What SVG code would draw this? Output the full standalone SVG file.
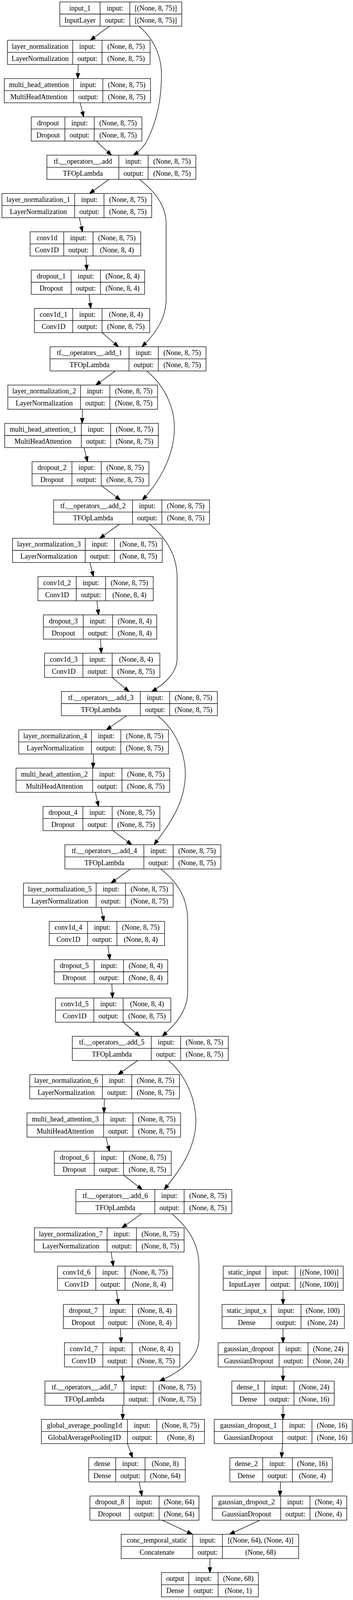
<svg xmlns="http://www.w3.org/2000/svg" width="903" height="4611" viewBox="0 0 903 4611">
<style>
.node rect{fill:#fff;stroke:#000;stroke-width:1.3}
.node path{fill:none;stroke:#000;stroke-width:1.3}
.node text{font-family:"Liberation Serif","Times New Roman",serif;font-size:18px;text-anchor:middle;fill:#000}
.edges path{fill:none;stroke:#000;stroke-width:1.3;marker-end:url(#arr)}
</style>
<defs>
<marker id="arr" markerUnits="userSpaceOnUse" markerWidth="16" markerHeight="12" refX="13" refY="5" orient="auto" overflow="visible">
<path d="M0,0.3 L13,5 L0,9.7 z" fill="#000" stroke="#000" stroke-width="1.3"/>
</marker>
</defs>
<rect width="903" height="4611" fill="#fff"/>
<g class="edges" id="edges">
<path d="M280,67 L231,103.1"/>
<path d="M200,165.1 L199,201.1"/>
<path d="M205,263.1 L214,299.2"/>
<path d="M246,361.2 L285,397.3"/>
<path d="M355,67 C390,95.7 413,139.1 413,191.2 C413,269.4 395,321.5 378,356.2 C370,373.6 358,386.6 341,397.3"/>
<path d="M279,459.3 L229,495.4"/>
<path d="M203,557.4 L211,593.4"/>
<path d="M220,655.4 L222,691.5"/>
<path d="M228,753.5 L232,789.6"/>
<path d="M261,851.6 L303,887.6"/>
<path d="M357,459.3 C390,486.1 425,521 425,573.3 L425,765.2 C425,817.6 395,856.8 363,887.6"/>
<path d="M295,949.6 L245,985.7"/>
<path d="M211,1047.7 L210,1083.8"/>
<path d="M215,1145.8 L224,1181.8"/>
<path d="M260,1243.8 L308,1279.9"/>
<path d="M375,949.6 C415,982.3 446,1034.5 446,1095.3 C446,1173.4 400,1242.9 364,1279.9"/>
<path d="M306,1341.9 L255,1378"/>
<path d="M230,1440 L239,1476.1"/>
<path d="M248,1538.1 L252,1574.1"/>
<path d="M257,1636.1 L259,1672.2"/>
<path d="M287,1734.2 L330,1770.3"/>
<path d="M383,1341.9 C420,1372.8 453,1416.4 453,1477.5 L453,1687 C453,1721.8 420,1752.4 388,1770.3"/>
<path d="M324,1832.3 L272,1868.3"/>
<path d="M239,1930.3 L238,1966.4"/>
<path d="M244,2028.4 L252,2064.5"/>
<path d="M289,2126.5 L337,2162.5"/>
<path d="M403,1832.3 C445,1864.8 474,1921.3 474,1982 C474,2060.2 425,2121 394,2162.5"/>
<path d="M334,2224.5 L284,2260.6"/>
<path d="M258,2322.6 L266,2358.7"/>
<path d="M276,2420.7 L281,2456.8"/>
<path d="M286,2518.8 L288,2554.8"/>
<path d="M315,2616.8 L358,2652.9"/>
<path d="M411,2224.5 C450,2255.1 480,2294.4 480,2355.5 L480,2538.8 C480,2591.1 445,2626 415,2652.9"/>
<path d="M352,2714.9 L302,2751"/>
<path d="M267,2813 L266,2849"/>
<path d="M271,2911 L280,2947.1"/>
<path d="M317,3009.1 L364,3045.2"/>
<path d="M431,2714.9 C470,2747.2 501,2808 501,2868.8 C501,2947 450,3007.8 420,3045.2"/>
<path d="M362,3107.2 L312,3143.2"/>
<path d="M284,3205.2 L290,3241.3"/>
<path d="M298,3303.3 L303,3339.4"/>
<path d="M308,3401.4 L310,3437.5"/>
<path d="M313,3499.5 L314,3535.5"/>
<path d="M440,3107.2 C480,3142 509,3181.2 509,3242.3 L509,3425.5 C509,3477.8 460,3512.7 408,3535.5"/>
<path d="M314,3597.5 L314,3633.6"/>
<path d="M326,3695.6 L339,3731.7"/>
<path d="M356,3793.7 L363,3829.7"/>
<path d="M415,3891.7 L492,3927.8"/>
<path d="M665,3891.7 L587,3927.8"/>
<path d="M537,3989.8 L537,4025.9"/>
<path d="M724,3303.3 L724,3339.4"/>
<path d="M724,3401.4 L724,3437.5"/>
<path d="M724,3499.5 L724,3535.5"/>
<path d="M724,3597.5 L724,3633.6"/>
<path d="M723,3695.6 L720,3731.7"/>
<path d="M718,3793.7 L716,3829.7"/>
</g>

<g class="node" id="input_1" transform="translate(153,5)"><rect width="312" height="62"/><path d="M103,0V62M179,0V62M0,31H312"/><text x="51.5" y="21.5">input_1</text><text x="51.5" y="52.5">InputLayer</text><text x="141" y="21.5">input:</text><text x="141" y="52.5">output:</text><text x="245.5" y="21.5">[(None, 8, 75)]</text><text x="245.5" y="52.5">[(None, 8, 75)]</text></g>

<g class="node" id="layer_normalization" transform="translate(19,103.07)"><rect width="365" height="62"/><path d="M167,0V62M242,0V62M0,31H365"/><text x="83.5" y="21.5">layer_normalization</text><text x="83.5" y="52.5">LayerNormalization</text><text x="204.5" y="21.5">input:</text><text x="204.5" y="52.5">output:</text><text x="303.5" y="21.5">(None, 8, 75)</text><text x="303.5" y="52.5">(None, 8, 75)</text></g>

<g class="node" id="multi_head_attention" transform="translate(11,201.14)"><rect width="374" height="62"/><path d="M177,0V62M252,0V62M0,31H374"/><text x="88.5" y="21.5">multi_head_attention</text><text x="88.5" y="52.5">MultiHeadAttention</text><text x="214.5" y="21.5">input:</text><text x="214.5" y="52.5">output:</text><text x="313" y="21.5">(None, 8, 75)</text><text x="313" y="52.5">(None, 8, 75)</text></g>

<g class="node" id="dropout" transform="translate(80,299.21)"><rect width="283" height="62"/><path d="M86,0V62M161,0V62M0,31H283"/><text x="43" y="21.5">dropout</text><text x="43" y="52.5">Dropout</text><text x="123.5" y="21.5">input:</text><text x="123.5" y="52.5">output:</text><text x="222" y="21.5">(None, 8, 75)</text><text x="222" y="52.5">(None, 8, 75)</text></g>

<g class="node" id="add" transform="translate(120,397.28)"><rect width="381" height="62"/><path d="M184,0V62M259,0V62M0,31H381"/><text x="92" y="21.5">tf.__operators__.add</text><text x="92" y="52.5">TFOpLambda</text><text x="221.5" y="21.5">input:</text><text x="221.5" y="52.5">output:</text><text x="320" y="21.5">(None, 8, 75)</text><text x="320" y="52.5">(None, 8, 75)</text></g>

<g class="node" id="layer_normalization_1" transform="translate(5,495.35)"><rect width="383" height="62"/><path d="M186,0V62M261,0V62M0,31H383"/><text x="93" y="21.5">layer_normalization_1</text><text x="93" y="52.5">LayerNormalization</text><text x="223.5" y="21.5">input:</text><text x="223.5" y="52.5">output:</text><text x="322" y="21.5">(None, 8, 75)</text><text x="322" y="52.5">(None, 8, 75)</text></g>

<g class="node" id="conv1d" transform="translate(77,593.42)"><rect width="283" height="62"/><path d="M86,0V62M161,0V62M0,31H283"/><text x="43" y="21.5">conv1d</text><text x="43" y="52.5">Conv1D</text><text x="123.5" y="21.5">input:</text><text x="123.5" y="52.5">output:</text><text x="222" y="21.5">(None, 8, 75)</text><text x="222" y="52.5">(None, 8, 4)</text></g>

<g class="node" id="dropout_1" transform="translate(80,691.49)"><rect width="290" height="62"/><path d="M102,0V62M177,0V62M0,31H290"/><text x="51" y="21.5">dropout_1</text><text x="51" y="52.5">Dropout</text><text x="139.5" y="21.5">input:</text><text x="139.5" y="52.5">output:</text><text x="233.5" y="21.5">(None, 8, 4)</text><text x="233.5" y="52.5">(None, 8, 4)</text></g>

<g class="node" id="conv1d_1" transform="translate(88,789.56)"><rect width="295" height="62"/><path d="M98,0V62M173,0V62M0,31H295"/><text x="49" y="21.5">conv1d_1</text><text x="49" y="52.5">Conv1D</text><text x="135.5" y="21.5">input:</text><text x="135.5" y="52.5">output:</text><text x="234" y="21.5">(None, 8, 4)</text><text x="234" y="52.5">(None, 8, 75)</text></g>

<g class="node" id="add_1" transform="translate(128,887.63)"><rect width="399" height="62"/><path d="M202,0V62M277,0V62M0,31H399"/><text x="101" y="21.5">tf.__operators__.add_1</text><text x="101" y="52.5">TFOpLambda</text><text x="239.5" y="21.5">input:</text><text x="239.5" y="52.5">output:</text><text x="338" y="21.5">(None, 8, 75)</text><text x="338" y="52.5">(None, 8, 75)</text></g>

<g class="node" id="layer_normalization_2" transform="translate(20,985.7)"><rect width="383" height="62"/><path d="M186,0V62M261,0V62M0,31H383"/><text x="93" y="21.5">layer_normalization_2</text><text x="93" y="52.5">LayerNormalization</text><text x="223.5" y="21.5">input:</text><text x="223.5" y="52.5">output:</text><text x="322" y="21.5">(None, 8, 75)</text><text x="322" y="52.5">(None, 8, 75)</text></g>

<g class="node" id="multi_head_attention_1" transform="translate(12,1083.77)"><rect width="393" height="62"/><path d="M196,0V62M271,0V62M0,31H393"/><text x="98" y="21.5">multi_head_attention_1</text><text x="98" y="52.5">MultiHeadAttention</text><text x="233.5" y="21.5">input:</text><text x="233.5" y="52.5">output:</text><text x="332" y="21.5">(None, 8, 75)</text><text x="332" y="52.5">(None, 8, 75)</text></g>

<g class="node" id="dropout_2" transform="translate(82,1181.84)"><rect width="299" height="62"/><path d="M102,0V62M177,0V62M0,31H299"/><text x="51" y="21.5">dropout_2</text><text x="51" y="52.5">Dropout</text><text x="139.5" y="21.5">input:</text><text x="139.5" y="52.5">output:</text><text x="238" y="21.5">(None, 8, 75)</text><text x="238" y="52.5">(None, 8, 75)</text></g>

<g class="node" id="add_2" transform="translate(137,1279.91)"><rect width="399" height="62"/><path d="M202,0V62M277,0V62M0,31H399"/><text x="101" y="21.5">tf.__operators__.add_2</text><text x="101" y="52.5">TFOpLambda</text><text x="239.5" y="21.5">input:</text><text x="239.5" y="52.5">output:</text><text x="338" y="21.5">(None, 8, 75)</text><text x="338" y="52.5">(None, 8, 75)</text></g>

<g class="node" id="layer_normalization_3" transform="translate(32,1377.98)"><rect width="383" height="62"/><path d="M186,0V62M261,0V62M0,31H383"/><text x="93" y="21.5">layer_normalization_3</text><text x="93" y="52.5">LayerNormalization</text><text x="223.5" y="21.5">input:</text><text x="223.5" y="52.5">output:</text><text x="322" y="21.5">(None, 8, 75)</text><text x="322" y="52.5">(None, 8, 75)</text></g>

<g class="node" id="conv1d_2" transform="translate(97,1476.05)"><rect width="295" height="62"/><path d="M98,0V62M173,0V62M0,31H295"/><text x="49" y="21.5">conv1d_2</text><text x="49" y="52.5">Conv1D</text><text x="135.5" y="21.5">input:</text><text x="135.5" y="52.5">output:</text><text x="234" y="21.5">(None, 8, 75)</text><text x="234" y="52.5">(None, 8, 4)</text></g>

<g class="node" id="dropout_3" transform="translate(111,1574.12)"><rect width="290" height="62"/><path d="M102,0V62M177,0V62M0,31H290"/><text x="51" y="21.5">dropout_3</text><text x="51" y="52.5">Dropout</text><text x="139.5" y="21.5">input:</text><text x="139.5" y="52.5">output:</text><text x="233.5" y="21.5">(None, 8, 4)</text><text x="233.5" y="52.5">(None, 8, 4)</text></g>

<g class="node" id="conv1d_3" transform="translate(114,1672.19)"><rect width="295" height="62"/><path d="M98,0V62M173,0V62M0,31H295"/><text x="49" y="21.5">conv1d_3</text><text x="49" y="52.5">Conv1D</text><text x="135.5" y="21.5">input:</text><text x="135.5" y="52.5">output:</text><text x="234" y="21.5">(None, 8, 4)</text><text x="234" y="52.5">(None, 8, 75)</text></g>

<g class="node" id="add_3" transform="translate(157,1770.26)"><rect width="399" height="62"/><path d="M202,0V62M277,0V62M0,31H399"/><text x="101" y="21.5">tf.__operators__.add_3</text><text x="101" y="52.5">TFOpLambda</text><text x="239.5" y="21.5">input:</text><text x="239.5" y="52.5">output:</text><text x="338" y="21.5">(None, 8, 75)</text><text x="338" y="52.5">(None, 8, 75)</text></g>

<g class="node" id="layer_normalization_4" transform="translate(48,1868.33)"><rect width="383" height="62"/><path d="M186,0V62M261,0V62M0,31H383"/><text x="93" y="21.5">layer_normalization_4</text><text x="93" y="52.5">LayerNormalization</text><text x="223.5" y="21.5">input:</text><text x="223.5" y="52.5">output:</text><text x="322" y="21.5">(None, 8, 75)</text><text x="322" y="52.5">(None, 8, 75)</text></g>

<g class="node" id="multi_head_attention_2" transform="translate(41,1966.4)"><rect width="393" height="62"/><path d="M196,0V62M271,0V62M0,31H393"/><text x="98" y="21.5">multi_head_attention_2</text><text x="98" y="52.5">MultiHeadAttention</text><text x="233.5" y="21.5">input:</text><text x="233.5" y="52.5">output:</text><text x="332" y="21.5">(None, 8, 75)</text><text x="332" y="52.5">(None, 8, 75)</text></g>

<g class="node" id="dropout_4" transform="translate(110,2064.47)"><rect width="299" height="62"/><path d="M102,0V62M177,0V62M0,31H299"/><text x="51" y="21.5">dropout_4</text><text x="51" y="52.5">Dropout</text><text x="139.5" y="21.5">input:</text><text x="139.5" y="52.5">output:</text><text x="238" y="21.5">(None, 8, 75)</text><text x="238" y="52.5">(None, 8, 75)</text></g>

<g class="node" id="add_4" transform="translate(166,2162.54)"><rect width="399" height="62"/><path d="M202,0V62M277,0V62M0,31H399"/><text x="101" y="21.5">tf.__operators__.add_4</text><text x="101" y="52.5">TFOpLambda</text><text x="239.5" y="21.5">input:</text><text x="239.5" y="52.5">output:</text><text x="338" y="21.5">(None, 8, 75)</text><text x="338" y="52.5">(None, 8, 75)</text></g>

<g class="node" id="layer_normalization_5" transform="translate(60,2260.61)"><rect width="383" height="62"/><path d="M186,0V62M261,0V62M0,31H383"/><text x="93" y="21.5">layer_normalization_5</text><text x="93" y="52.5">LayerNormalization</text><text x="223.5" y="21.5">input:</text><text x="223.5" y="52.5">output:</text><text x="322" y="21.5">(None, 8, 75)</text><text x="322" y="52.5">(None, 8, 75)</text></g>

<g class="node" id="conv1d_4" transform="translate(126,2358.68)"><rect width="295" height="62"/><path d="M98,0V62M173,0V62M0,31H295"/><text x="49" y="21.5">conv1d_4</text><text x="49" y="52.5">Conv1D</text><text x="135.5" y="21.5">input:</text><text x="135.5" y="52.5">output:</text><text x="234" y="21.5">(None, 8, 75)</text><text x="234" y="52.5">(None, 8, 4)</text></g>

<g class="node" id="dropout_5" transform="translate(139,2456.75)"><rect width="290" height="62"/><path d="M102,0V62M177,0V62M0,31H290"/><text x="51" y="21.5">dropout_5</text><text x="51" y="52.5">Dropout</text><text x="139.5" y="21.5">input:</text><text x="139.5" y="52.5">output:</text><text x="233.5" y="21.5">(None, 8, 4)</text><text x="233.5" y="52.5">(None, 8, 4)</text></g>

<g class="node" id="conv1d_5" transform="translate(142,2554.82)"><rect width="295" height="62"/><path d="M98,0V62M173,0V62M0,31H295"/><text x="49" y="21.5">conv1d_5</text><text x="49" y="52.5">Conv1D</text><text x="135.5" y="21.5">input:</text><text x="135.5" y="52.5">output:</text><text x="234" y="21.5">(None, 8, 4)</text><text x="234" y="52.5">(None, 8, 75)</text></g>

<g class="node" id="add_5" transform="translate(185,2652.89)"><rect width="399" height="62"/><path d="M202,0V62M277,0V62M0,31H399"/><text x="101" y="21.5">tf.__operators__.add_5</text><text x="101" y="52.5">TFOpLambda</text><text x="239.5" y="21.5">input:</text><text x="239.5" y="52.5">output:</text><text x="338" y="21.5">(None, 8, 75)</text><text x="338" y="52.5">(None, 8, 75)</text></g>

<g class="node" id="layer_normalization_6" transform="translate(76,2750.96)"><rect width="383" height="62"/><path d="M186,0V62M261,0V62M0,31H383"/><text x="93" y="21.5">layer_normalization_6</text><text x="93" y="52.5">LayerNormalization</text><text x="223.5" y="21.5">input:</text><text x="223.5" y="52.5">output:</text><text x="322" y="21.5">(None, 8, 75)</text><text x="322" y="52.5">(None, 8, 75)</text></g>

<g class="node" id="multi_head_attention_3" transform="translate(69,2849.03)"><rect width="393" height="62"/><path d="M196,0V62M271,0V62M0,31H393"/><text x="98" y="21.5">multi_head_attention_3</text><text x="98" y="52.5">MultiHeadAttention</text><text x="233.5" y="21.5">input:</text><text x="233.5" y="52.5">output:</text><text x="332" y="21.5">(None, 8, 75)</text><text x="332" y="52.5">(None, 8, 75)</text></g>

<g class="node" id="dropout_6" transform="translate(139,2947.1)"><rect width="299" height="62"/><path d="M102,0V62M177,0V62M0,31H299"/><text x="51" y="21.5">dropout_6</text><text x="51" y="52.5">Dropout</text><text x="139.5" y="21.5">input:</text><text x="139.5" y="52.5">output:</text><text x="238" y="21.5">(None, 8, 75)</text><text x="238" y="52.5">(None, 8, 75)</text></g>

<g class="node" id="add_6" transform="translate(194,3045.17)"><rect width="399" height="62"/><path d="M202,0V62M277,0V62M0,31H399"/><text x="101" y="21.5">tf.__operators__.add_6</text><text x="101" y="52.5">TFOpLambda</text><text x="239.5" y="21.5">input:</text><text x="239.5" y="52.5">output:</text><text x="338" y="21.5">(None, 8, 75)</text><text x="338" y="52.5">(None, 8, 75)</text></g>

<g class="node" id="layer_normalization_7" transform="translate(88,3143.24)"><rect width="383" height="62"/><path d="M186,0V62M261,0V62M0,31H383"/><text x="93" y="21.5">layer_normalization_7</text><text x="93" y="52.5">LayerNormalization</text><text x="223.5" y="21.5">input:</text><text x="223.5" y="52.5">output:</text><text x="322" y="21.5">(None, 8, 75)</text><text x="322" y="52.5">(None, 8, 75)</text></g>

<g class="node" id="conv1d_6" transform="translate(147,3241.31)"><rect width="295" height="62"/><path d="M98,0V62M173,0V62M0,31H295"/><text x="49" y="21.5">conv1d_6</text><text x="49" y="52.5">Conv1D</text><text x="135.5" y="21.5">input:</text><text x="135.5" y="52.5">output:</text><text x="234" y="21.5">(None, 8, 75)</text><text x="234" y="52.5">(None, 8, 4)</text></g>

<g class="node" id="dropout_7" transform="translate(162,3339.38)"><rect width="290" height="62"/><path d="M102,0V62M177,0V62M0,31H290"/><text x="51" y="21.5">dropout_7</text><text x="51" y="52.5">Dropout</text><text x="139.5" y="21.5">input:</text><text x="139.5" y="52.5">output:</text><text x="233.5" y="21.5">(None, 8, 4)</text><text x="233.5" y="52.5">(None, 8, 4)</text></g>

<g class="node" id="conv1d_7" transform="translate(165,3437.45)"><rect width="295" height="62"/><path d="M98,0V62M173,0V62M0,31H295"/><text x="49" y="21.5">conv1d_7</text><text x="49" y="52.5">Conv1D</text><text x="135.5" y="21.5">input:</text><text x="135.5" y="52.5">output:</text><text x="234" y="21.5">(None, 8, 4)</text><text x="234" y="52.5">(None, 8, 75)</text></g>

<g class="node" id="add_7" transform="translate(115,3535.52)"><rect width="399" height="62"/><path d="M202,0V62M277,0V62M0,31H399"/><text x="101" y="21.5">tf.__operators__.add_7</text><text x="101" y="52.5">TFOpLambda</text><text x="239.5" y="21.5">input:</text><text x="239.5" y="52.5">output:</text><text x="338" y="21.5">(None, 8, 75)</text><text x="338" y="52.5">(None, 8, 75)</text></g>

<g class="node" id="global_average_pooling1d" transform="translate(106,3633.59)"><rect width="417" height="62"/><path d="M220,0V62M295,0V62M0,31H417"/><text x="110" y="21.5">global_average_pooling1d</text><text x="110" y="52.5">GlobalAveragePooling1D</text><text x="257.5" y="21.5">input:</text><text x="257.5" y="52.5">output:</text><text x="356" y="21.5">(None, 8, 75)</text><text x="356" y="52.5">(None, 8)</text></g>

<g class="node" id="dense" transform="translate(227,3731.66)"><rect width="247" height="62"/><path d="M69,0V62M144,0V62M0,31H247"/><text x="34.5" y="21.5">dense</text><text x="34.5" y="52.5">Dense</text><text x="106.5" y="21.5">input:</text><text x="106.5" y="52.5">output:</text><text x="195.5" y="21.5">(None, 8)</text><text x="195.5" y="52.5">(None, 64)</text></g>

<g class="node" id="dropout_8" transform="translate(230,3829.73)"><rect width="279" height="62"/><path d="M101,0V62M177,0V62M0,31H279"/><text x="50.5" y="21.5">dropout_8</text><text x="50.5" y="52.5">Dropout</text><text x="139" y="21.5">input:</text><text x="139" y="52.5">output:</text><text x="228" y="21.5">(None, 64)</text><text x="228" y="52.5">(None, 64)</text></g>

<g class="node" id="static_input" transform="translate(571,3241.31)"><rect width="307" height="62"/><path d="M109,0V62M184,0V62M0,31H307"/><text x="54.5" y="21.5">static_input</text><text x="54.5" y="52.5">InputLayer</text><text x="146.5" y="21.5">input:</text><text x="146.5" y="52.5">output:</text><text x="245.5" y="21.5">[(None, 100)]</text><text x="245.5" y="52.5">[(None, 100)]</text></g>

<g class="node" id="static_input_x" transform="translate(568,3339.38)"><rect width="313" height="62"/><path d="M126,0V62M202,0V62M0,31H313"/><text x="63" y="21.5">static_input_x</text><text x="63" y="52.5">Dense</text><text x="164" y="21.5">input:</text><text x="164" y="52.5">output:</text><text x="257.5" y="21.5">(None, 100)</text><text x="257.5" y="52.5">(None, 24)</text></g>

<g class="node" id="gaussian_dropout" transform="translate(558,3437.45)"><rect width="333" height="62"/><path d="M156,0V62M230,0V62M0,31H333"/><text x="78" y="21.5">gaussian_dropout</text><text x="78" y="52.5">GaussianDropout</text><text x="193" y="21.5">input:</text><text x="193" y="52.5">output:</text><text x="281.5" y="21.5">(None, 24)</text><text x="281.5" y="52.5">(None, 24)</text></g>

<g class="node" id="dense_1" transform="translate(593,3535.52)"><rect width="262" height="62"/><path d="M84,0V62M159,0V62M0,31H262"/><text x="42" y="21.5">dense_1</text><text x="42" y="52.5">Dense</text><text x="121.5" y="21.5">input:</text><text x="121.5" y="52.5">output:</text><text x="210.5" y="21.5">(None, 24)</text><text x="210.5" y="52.5">(None, 16)</text></g>

<g class="node" id="gaussian_dropout_1" transform="translate(548,3633.59)"><rect width="353" height="62"/><path d="M175,0V62M250,0V62M0,31H353"/><text x="87.5" y="21.5">gaussian_dropout_1</text><text x="87.5" y="52.5">GaussianDropout</text><text x="212.5" y="21.5">input:</text><text x="212.5" y="52.5">output:</text><text x="301.5" y="21.5">(None, 16)</text><text x="301.5" y="52.5">(None, 16)</text></g>

<g class="node" id="dense_2" transform="translate(588,3731.66)"><rect width="262" height="62"/><path d="M84,0V62M160,0V62M0,31H262"/><text x="42" y="21.5">dense_2</text><text x="42" y="52.5">Dense</text><text x="122" y="21.5">input:</text><text x="122" y="52.5">output:</text><text x="211" y="21.5">(None, 16)</text><text x="211" y="52.5">(None, 4)</text></g>

<g class="node" id="gaussian_dropout_2" transform="translate(543,3829.73)"><rect width="344" height="62"/><path d="M175,0V62M250,0V62M0,31H344"/><text x="87.5" y="21.5">gaussian_dropout_2</text><text x="87.5" y="52.5">GaussianDropout</text><text x="212.5" y="21.5">input:</text><text x="212.5" y="52.5">output:</text><text x="297" y="21.5">(None, 4)</text><text x="297" y="52.5">(None, 4)</text></g>

<g class="node" id="conc_temporal_static" transform="translate(310,3927.8)"><rect width="454" height="62"/><path d="M183,0V62M259,0V62M0,31H454"/><text x="91.5" y="21.5">conc_temporal_static</text><text x="91.5" y="52.5">Concatenate</text><text x="221" y="21.5">input:</text><text x="221" y="52.5">output:</text><text x="356.5" y="21.5">[(None, 64), (None, 4)]</text><text x="356.5" y="52.5">(None, 68)</text></g>

<g class="node" id="output" transform="translate(413,4025.87)"><rect width="248" height="62"/><path d="M70,0V62M145,0V62M0,31H248"/><text x="35" y="21.5">output</text><text x="35" y="52.5">Dense</text><text x="107.5" y="21.5">input:</text><text x="107.5" y="52.5">output:</text><text x="196.5" y="21.5">(None, 68)</text><text x="196.5" y="52.5">(None, 1)</text></g>
</svg>
